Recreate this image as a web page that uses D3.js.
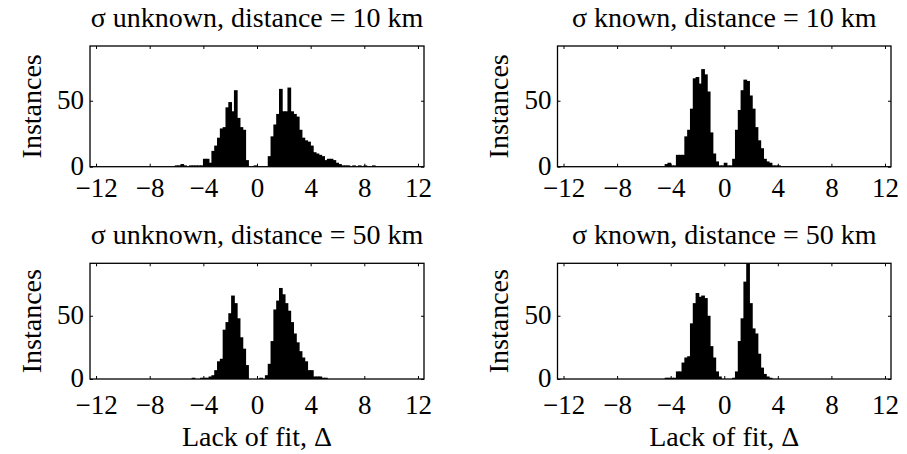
<!DOCTYPE html>
<html>
<head>
<meta charset="utf-8">
<script src="https://cdn.jsdelivr.net/npm/d3@7"></script>
<style>
body { margin: 0; background: #fff; }
text { font-family: "Liberation Serif", "Times New Roman", serif; fill: #000; }
</style>
</head>
<body>
<script>
const width = 907;
const height = 454;

// left edge of every histogram bin, bins are 0.21 wide
const binEdges = [-6.97, -6.76, -6.55, -6.34, -6.13, -5.92, -5.71, -5.50, -5.29, -5.08,
  -4.87, -4.66, -4.45, -4.24, -4.03, -3.82, -3.61, -3.40, -3.19, -2.98,
  -2.77, -2.56, -2.35, -2.14, -1.93, -1.72, -1.51, -1.30, -1.09, -0.88,
  -0.67, -0.46, -0.25, -0.04, 0.17, 0.38, 0.59, 0.80, 1.01, 1.22,
  1.43, 1.64, 1.85, 2.06, 2.27, 2.48, 2.69, 2.90, 3.11, 3.32,
  3.53, 3.74, 3.95, 4.16, 4.37, 4.58, 4.79, 5.00, 5.21, 5.42,
  5.63, 5.84, 6.05, 6.26, 6.47, 6.68, 6.89, 7.10, 7.31, 7.52,
  7.73, 7.94, 8.15, 8.36, 8.57, 8.78];
const binWidth = 0.21;

// counts per bin
const unknown10 = [0, 0, 0, 0, 1, 1, 2, 1, 0, 1,
  1, 1, 1, 1, 6, 6, 3, 12, 16, 22,
  29, 30, 45, 49, 42, 58, 37, 30, 28, 5,
  0, 0, 1, 0, 0, 0, 0, 8, 23, 32,
  40, 59, 42, 42, 60, 42, 40, 38, 28, 22,
  20, 19, 16, 11, 10, 9, 8, 5, 6, 6,
  5, 3, 2, 1, 1, 1, 0, 1, 0, 1,
  0, 1, 0, 0, 1, 0];
const known10 = [0, 0, 0, 0, 0, 0, 0, 0, 0, 0,
  0, 0, 2, 3, 1, 1, 9, 9, 9, 23,
  28, 44, 67, 68, 63, 74, 70, 57, 26, 10,
  4, 1, 1, 3, 1, 1, 6, 28, 43, 58,
  66, 65, 54, 44, 30, 20, 14, 6, 4, 3,
  1, 1, 1, 0, 0, 0, 0, 0, 0, 0,
  0, 0, 0, 0, 0, 0, 0, 0, 0, 0,
  0, 0, 0, 0, 0, 0];
const unknown50 = [0, 0, 0, 0, 0, 0, 0, 0, 0, 0,
  1, 0, 0, 1, 1, 1, 2, 3, 7, 14,
  16, 39, 45, 52, 66, 60, 48, 33, 24, 11,
  0, 0, 0, 0, 1, 0, 3, 12, 30, 55,
  62, 72, 67, 60, 54, 45, 36, 29, 22, 17,
  14, 7, 7, 2, 2, 2, 1, 1, 0, 0,
  0, 0, 0, 0, 0, 0, 0, 0, 0, 0,
  0, 0, 0, 0, 0, 0];
const known50 = [0, 0, 0, 0, 0, 0, 0, 0, 0, 0,
  0, 0, 1, 1, 1, 1, 6, 6, 13, 17,
  18, 44, 60, 68, 65, 66, 64, 50, 26, 17,
  6, 2, 0, 0, 0, 0, 1, 6, 30, 48,
  77, 96, 60, 40, 36, 20, 9, 4, 2, 1,
  0, 0, 0, 0, 0, 0, 0, 0, 0, 0,
  0, 0, 0, 0, 0, 0, 0, 0, 0, 0,
  0, 0, 0, 0, 0, 0];

const titles = ["σ unknown, distance = 10 km", "σ known, distance = 10 km",
  "σ unknown, distance = 50 km", "σ known, distance = 50 km"];
const xTicks = [-12, -8, -4, 0, 4, 8, 12];
const yTicks = [0, 50];
const xLabel = "Lack of fit, Δ";
const yLabel = "Instances";

const xDomain = [-12.45, 12.45];
const yDomain = [0, 91.5];

const panels = [
  {title: titles[0], counts: unknown10, left: 90, right: 424, top: 46, bottom: 166.7, yl: 41, pad: 11, xl: false},
  {title: titles[1], counts: known10, left: 557.5, right: 891, top: 46, bottom: 166.7, yl: 508, pad: 11, xl: false},
  {title: titles[2], counts: unknown50, left: 90, right: 424, top: 263.3, bottom: 379, yl: 41, pad: 16, xl: true},
  {title: titles[3], counts: known50, left: 557.5, right: 891, top: 263.3, bottom: 379, yl: 508, pad: 16, xl: true}
];

const svg = d3.select("body").append("svg")
    .attr("width", width)
    .attr("height", height);

const fmt = d => d < 0 ? "\u2212" + Math.abs(d) : String(d);

panels.forEach((p, i) => {
  const x = d3.scaleLinear().domain(xDomain).range([p.left, p.right]);
  const y = d3.scaleLinear().domain(yDomain).range([p.bottom, p.top]);
  const g = svg.append("g");

  svg.append("clipPath").attr("id", "clip" + i)
    .append("rect")
    .attr("x", p.left).attr("y", p.top)
    .attr("width", p.right - p.left).attr("height", p.bottom - p.top);

  // histogram bars (a little overlap so no white seams between bins)
  g.append("g").attr("clip-path", `url(#clip${i})`)
    .selectAll("rect")
    .data(p.counts)
    .join("rect")
    .attr("x", (d, j) => x(binEdges[j]))
    .attr("width", (d, j) => x(binEdges[j] + binWidth) - x(binEdges[j]) + 0.9)
    .attr("y", d => y(d))
    .attr("height", d => y(0) - y(d))
    .attr("fill", "#000");

  // inward ticks on all four sides
  g.append("g").attr("transform", `translate(0,${p.bottom})`)
    .call(d3.axisBottom(x).tickValues(xTicks).tickSizeInner(-3).tickSizeOuter(0).tickPadding(p.pad).tickFormat(fmt));
  g.append("g").attr("transform", `translate(0,${p.top})`)
    .call(d3.axisTop(x).tickValues(xTicks).tickSizeInner(-3).tickSizeOuter(0).tickFormat(""));
  g.append("g").attr("transform", `translate(${p.left},0)`)
    .call(d3.axisLeft(y).tickValues(yTicks).tickSizeInner(-3).tickSizeOuter(0).tickPadding(6).tickFormat(d3.format("d")))
    .selectAll("text").attr("dy", "0.28em");
  g.append("g").attr("transform", `translate(${p.right},0)`)
    .call(d3.axisRight(y).tickValues(yTicks).tickSizeInner(-3).tickSizeOuter(0).tickFormat(""));

  g.selectAll(".domain").remove();
  g.selectAll(".tick line").attr("stroke", "#000").attr("stroke-width", 1);
  g.selectAll(".tick text")
    .style("font-size", "27px")
    .style("font-family", "'Liberation Serif', serif")
    .attr("fill", "#000");

  // axes box
  g.append("rect")
    .attr("x", p.left).attr("y", p.top)
    .attr("width", p.right - p.left).attr("height", p.bottom - p.top)
    .attr("fill", "none").attr("stroke", "#000").attr("stroke-width", 1.3);

  g.append("text")
    .attr("x", (p.left + p.right) / 2)
    .attr("y", p.top - 19)
    .attr("text-anchor", "middle")
    .style("font-size", "28px")
    .text(p.title);

  g.append("text")
    .attr("transform", `translate(${p.yl},${(p.top + p.bottom) / 2}) rotate(-90)`)
    .attr("text-anchor", "middle")
    .style("font-size", "28px")
    .text(yLabel);

  if (p.xl) {
    g.append("text")
      .attr("x", (p.left + p.right) / 2)
      .attr("y", p.bottom + 67)
      .attr("text-anchor", "middle")
      .style("font-size", "28px")
      .text(xLabel);
  }
});
</script>
</body>
</html>
